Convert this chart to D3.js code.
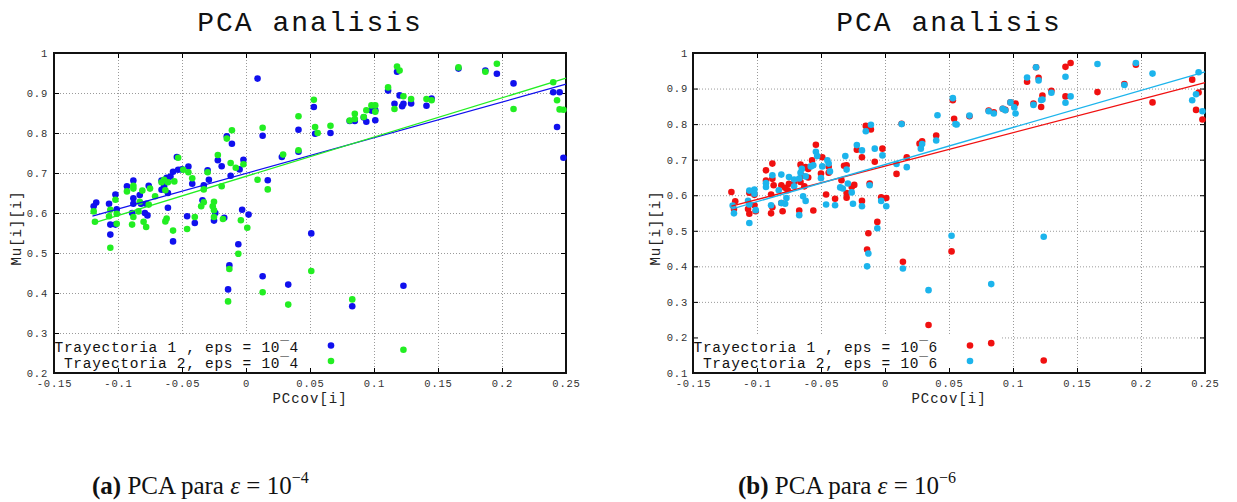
<!DOCTYPE html>
<html>
<head>
<meta charset="utf-8">
<script src="https://cdn.jsdelivr.net/npm/d3@7"></script>
<style>
  body { margin: 0; background: #fff; }
  .mono { font-family: "Liberation Mono", "Courier New", monospace; }
  .serif { font-family: "Liberation Serif", "DejaVu Serif", serif; }
</style>
</head>
<body>
<svg id="fig" width="1237" height="502"></svg>
<script>
// ---- data: [PCcov[i], Mu[i][i]] ----
var trayA1 = [ // eps = 10^-4, trayectoria 1 (blue)
  [0.009,0.936],[0.053,0.865],[0.054,0.798],[0.013,0.793],[-0.015,0.792],[-0.011,0.773],[0.041,0.808],[0.066,0.800],
  [0.041,0.753],[0.028,0.740],[0.017,0.682],[-0.002,0.733],[-0.005,0.709],[-0.012,0.693],[-0.019,0.717],[-0.022,0.732],
  [-0.030,0.707],[-0.029,0.683],[-0.033,0.669],[-0.042,0.673],[-0.045,0.716],[-0.050,0.709],[-0.053,0.708],[-0.054,0.740],
  [-0.057,0.703],[-0.062,0.688],[-0.061,0.650],[-0.064,0.667],[-0.066,0.681],[-0.066,0.658],[-0.061,0.613],[-0.059,0.691],
  [-0.076,0.668],[-0.088,0.681],[-0.088,0.637],[-0.088,0.623],[-0.083,0.645],[-0.082,0.623],[-0.078,0.623],[-0.079,0.600],
  [-0.077,0.594],[-0.093,0.667],[-0.089,0.600],[-0.102,0.646],[-0.101,0.609],[-0.107,0.623],[-0.117,0.626],[-0.119,0.617],
  [-0.034,0.632],[-0.024,0.600],[-0.017,0.588],[-0.003,0.608],[0.002,0.596],
  [0.081,0.830],[0.085,0.830],[0.092,0.839],[0.094,0.828],[0.098,0.856],[0.101,0.832],[0.101,0.857],[0.111,0.906],
  [0.116,0.873],[0.118,0.953],[0.120,0.894],[0.122,0.867],[0.123,0.873],[0.129,0.874],[0.141,0.868],[0.145,0.886],
  [0.166,0.961],[0.187,0.956],[0.196,0.948],[0.209,0.924],[0.240,0.902],[0.245,0.902],[0.243,0.815],[0.248,0.738],
  [-0.106,0.571],[-0.106,0.546],[-0.102,0.571],[-0.057,0.529],[-0.046,0.592],[-0.040,0.575],[-0.025,0.581],[-0.006,0.522],
  [-0.013,0.469],[-0.014,0.409],[0.013,0.442],[0.033,0.421],[0.051,0.549],[0.083,0.367],[0.123,0.418]
];
var trayA2 = [ // eps = 10^-4, trayectoria 2 (green)
  [0.053,0.883],[0.041,0.842],[0.013,0.813],[-0.011,0.807],[-0.015,0.786],[0.066,0.818],[0.054,0.815],[0.041,0.757],
  [0.029,0.746],[0.009,0.683],[0.017,0.659],[-0.002,0.722],[-0.008,0.713],[-0.012,0.725],[-0.022,0.745],[-0.019,0.667],
  [-0.030,0.702],[-0.033,0.659],[-0.033,0.627],[-0.042,0.687],[-0.045,0.702],[-0.049,0.708],[-0.053,0.738],[-0.056,0.679],
  [-0.061,0.677],[-0.064,0.683],[-0.066,0.677],[-0.063,0.657],[-0.071,0.642],[-0.075,0.661],[-0.076,0.621],[-0.088,0.668],
  [-0.088,0.661],[-0.081,0.656],[-0.093,0.654],[-0.083,0.628],[-0.084,0.604],[-0.106,0.608],[-0.102,0.633],[-0.101,0.598],
  [-0.119,0.604],[-0.025,0.628],[-0.025,0.607],
  [0.056,0.800],[0.081,0.831],[0.085,0.848],[0.085,0.835],[0.092,0.840],[0.094,0.857],[0.098,0.869],[0.101,0.869],
  [0.101,0.853],[0.111,0.914],[0.116,0.860],[0.118,0.966],[0.120,0.956],[0.123,0.892],[0.129,0.885],[0.141,0.885],
  [0.145,0.882],[0.166,0.964],[0.187,0.953],[0.196,0.973],[0.209,0.860],[0.240,0.927],[0.243,0.882],[0.245,0.859],[0.248,0.858],
  [-0.118,0.578],[-0.107,0.592],[-0.106,0.513],[-0.101,0.573],[-0.089,0.571],[-0.088,0.590],[-0.080,0.578],[-0.078,0.565],
  [-0.063,0.579],[-0.062,0.586],[-0.057,0.556],[-0.046,0.560],[-0.040,0.590],[-0.035,0.617],[-0.026,0.617],[-0.025,0.590],
  [-0.018,0.585],[-0.004,0.582],[0.001,0.563],[-0.006,0.498],[-0.013,0.460],[-0.014,0.379],[0.013,0.402],[0.033,0.371],
  [0.051,0.455],[0.083,0.384],[0.123,0.258]
];
var trayB1 = [ // eps = 10^-6, trayectoria 1 (red)
  [-0.120,0.609],[-0.117,0.583],[-0.118,0.561],[-0.107,0.561],[-0.106,0.548],[-0.106,0.607],[-0.102,0.572],[-0.101,0.555],
  [-0.102,0.601],[-0.093,0.670],[-0.093,0.641],[-0.088,0.689],[-0.088,0.646],[-0.087,0.628],[-0.089,0.602],[-0.089,0.549],
  [-0.088,0.566],[-0.080,0.555],[-0.081,0.578],[-0.081,0.628],[-0.078,0.621],[-0.075,0.632],[-0.076,0.614],[-0.071,0.636],
  [-0.067,0.557],[-0.066,0.637],[-0.066,0.686],[-0.065,0.655],[-0.062,0.679],[-0.060,0.674],[-0.060,0.650],[-0.063,0.625],
  [-0.057,0.698],[-0.056,0.557],[-0.054,0.742],[-0.050,0.661],[-0.049,0.707],[-0.046,0.602],[-0.044,0.680],[-0.044,0.663],
  [-0.039,0.590],[-0.034,0.642],[-0.032,0.683],[-0.030,0.684],[-0.030,0.606],[-0.030,0.593],[-0.026,0.623],[-0.024,0.629],
  [-0.022,0.728],[-0.018,0.707],[-0.018,0.584],[-0.015,0.795],[-0.011,0.785],[-0.012,0.633],[-0.008,0.694],[-0.002,0.731],
  [-0.003,0.594],[0.001,0.592],[0.009,0.660],[0.017,0.707],[0.013,0.801],[0.027,0.745],[0.029,0.752],[0.040,0.768],
  [0.053,0.867],[0.054,0.815],
  [0.066,0.822],[0.081,0.838],[0.085,0.833],[0.092,0.843],[0.094,0.840],[0.098,0.861],[0.102,0.858],[0.111,0.919],
  [0.116,0.858],[0.118,0.960],[0.120,0.930],[0.122,0.848],[0.123,0.880],[0.130,0.894],[0.141,0.878],[0.141,0.961],
  [0.145,0.972],[0.166,0.890],[0.187,0.913],[0.196,0.967],[0.209,0.861],[0.240,0.925],[0.243,0.840],[0.245,0.889],[0.248,0.813],
  [-0.006,0.525],[-0.013,0.493],[-0.014,0.447],[0.014,0.413],[0.034,0.235],[0.052,0.442],[0.083,0.184],[0.124,0.135]
];
var trayB2 = [ // eps = 10^-6, trayectoria 2 (light blue)
  [-0.119,0.571],[-0.118,0.549],[-0.107,0.584],[-0.106,0.613],[-0.106,0.574],[-0.102,0.616],[-0.102,0.604],[-0.101,0.558],
  [-0.093,0.634],[-0.093,0.623],[-0.089,0.572],[-0.088,0.656],[-0.083,0.614],[-0.081,0.658],[-0.081,0.578],[-0.078,0.576],
  [-0.077,0.592],[-0.075,0.651],[-0.071,0.625],[-0.071,0.644],[-0.067,0.544],[-0.067,0.647],[-0.066,0.663],[-0.065,0.674],
  [-0.064,0.597],[-0.062,0.653],[-0.062,0.584],[-0.058,0.681],[-0.056,0.684],[-0.054,0.722],[-0.053,0.710],[-0.050,0.648],
  [-0.049,0.681],[-0.046,0.574],[-0.045,0.698],[-0.044,0.689],[-0.043,0.667],[-0.039,0.572],[-0.035,0.622],[-0.033,0.619],
  [-0.031,0.710],[-0.030,0.672],[-0.029,0.633],[-0.026,0.608],[-0.025,0.576],[-0.022,0.741],[-0.018,0.726],[-0.018,0.569],
  [-0.015,0.780],[-0.011,0.798],[-0.012,0.628],[-0.008,0.731],[-0.002,0.712],[-0.003,0.584],[0.001,0.569],[0.009,0.688],
  [0.017,0.679],[0.013,0.800],[0.028,0.731],[0.029,0.744],[0.040,0.754],[0.041,0.825],[0.053,0.873],[0.055,0.800],
  [0.056,0.799],[0.066,0.824],[0.081,0.836],[0.085,0.830],[0.092,0.843],[0.094,0.839],[0.098,0.861],[0.101,0.847],
  [0.102,0.830],[0.111,0.931],[0.116,0.854],[0.118,0.960],[0.120,0.923],[0.122,0.868],[0.123,0.869],[0.130,0.888],
  [0.141,0.860],[0.141,0.933],[0.145,0.878],[0.166,0.969],[0.187,0.910],[0.196,0.972],[0.209,0.942],[0.240,0.867],
  [0.243,0.884],[0.245,0.946],[0.248,0.836],
  [-0.106,0.522],[-0.014,0.400],[-0.013,0.436],[-0.006,0.507],[0.014,0.394],[0.034,0.333],[0.052,0.486],[0.124,0.483],[0.083,0.350]
];

// linear fits: value at the first and last PCcov
var fitX = [-0.12, 0.25];
var fitA1 = [0.592, 0.922];
var fitA2 = [0.574, 0.937];
var fitB1 = [0.569, 0.917];
var fitB2 = [0.561, 0.947];

var xTicks = [-0.15, -0.1, -0.05, 0, 0.05, 0.1, 0.15, 0.2, 0.25];
var xTickLabels = ["-0.15", "-0.1", "-0.05", "0", "0.05", "0.1", "0.15", "0.2", "0.25"];
var yTicksA = [0.2, 0.3, 0.4, 0.5, 0.6, 0.7, 0.8, 0.9, 1];
var yTickLabelsA = ["0.2", "0.3", "0.4", "0.5", "0.6", "0.7", "0.8", "0.9", "1"];
var yTicksB = [0.1, 0.2, 0.3, 0.4, 0.5, 0.6, 0.7, 0.8, 0.9, 1];
var yTickLabelsB = ["0.1", "0.2", "0.3", "0.4", "0.5", "0.6", "0.7", "0.8", "0.9", "1"];

var legendA = ["Trayectoria 1 , eps = 10\u00af4", "Trayectoria 2, eps = 10\u00af4"];
var legendB = ["Trayectoria 1 , eps = 10\u00af6", "Trayectoria 2, eps = 10\u00af6"];

var svg = d3.select("#fig");

var drawPanel = function(cfg) {
    var W = 512, TOP = 53, BOTTOM = 373;
    var left = cfg.left;
    var x = d3.scaleLinear().domain([-0.15, 0.25]).range([left, left + W]);
    var y = d3.scaleLinear().domain([cfg.yTicks[0], 1]).range([BOTTOM, TOP]);
    var g = svg.append("g");

    // dotted grid
    g.append("g")
        .attr("transform", "translate(0," + BOTTOM + ")")
        .call(d3.axisBottom(x).tickValues(xTicks.slice(1, -1)).tickSize(-(BOTTOM - TOP)).tickFormat(""))
        .call(function(s){ s.select(".domain").remove(); });
    g.append("g")
        .attr("transform", "translate(" + left + ",0)")
        .call(d3.axisLeft(y).tickValues(cfg.yTicks.slice(1, -1)).tickSize(-W).tickFormat(""))
        .call(function(s){ s.select(".domain").remove(); });
    g.selectAll(".tick line")
        .attr("stroke", "#9a9a9a")
        .attr("stroke-width", 1)
        .attr("stroke-dasharray", "1,2");

    // key box hides the grid behind it
    g.append("rect")
        .attr("x", left + 1).attr("y", 336)
        .attr("width", 308).attr("height", BOTTOM - 337)
        .attr("fill", "#fff");

    // inward ticks on all four sides + labels
    var styleAxis = function(s) {
        s.select(".domain").remove();
        s.selectAll(".tick line").attr("stroke", "#000").attr("stroke-width", 1);
        s.selectAll("text")
            .attr("class", "mono")
            .attr("font-size", 10.5)
            .attr("letter-spacing", 0.8)
            .attr("fill", "#333");
    };
    g.append("g")
        .attr("transform", "translate(0," + BOTTOM + ")")
        .call(d3.axisBottom(x).tickValues(xTicks).tickSizeInner(-5).tickSizeOuter(0).tickPadding(7)
            .tickFormat(function(d, i){ return xTickLabels[i]; }))
        .call(styleAxis);
    g.append("g")
        .attr("transform", "translate(0," + TOP + ")")
        .call(d3.axisTop(x).tickValues(xTicks).tickSizeInner(-5).tickSizeOuter(0).tickFormat(""))
        .call(styleAxis);
    g.append("g")
        .attr("transform", "translate(" + left + ",0)")
        .call(d3.axisLeft(y).tickValues(cfg.yTicks).tickSizeInner(-5).tickSizeOuter(0).tickPadding(cfg.yPad)
            .tickFormat(function(d, i){ return cfg.yTickLabels[i]; }))
        .call(styleAxis);
    g.append("g")
        .attr("transform", "translate(" + (left + W) + ",0)")
        .call(d3.axisRight(y).tickValues(cfg.yTicks).tickSizeInner(-5).tickSizeOuter(0).tickFormat(""))
        .call(styleAxis);

    // frame
    g.append("rect")
        .attr("x", left).attr("y", TOP)
        .attr("width", W).attr("height", BOTTOM - TOP)
        .attr("fill", "none")
        .attr("stroke", "#111")
        .attr("stroke-width", 2);

    // points, series 2 above series 1
    cfg.series.forEach(function(sr) {
        g.append("g").selectAll("circle")
            .data(sr.data)
            .enter().append("circle")
            .attr("cx", function(d){ return x(d[0]); })
            .attr("cy", function(d){ return y(d[1]); })
            .attr("r", 3.3)
            .attr("fill", sr.color);
    });

    // fitted lines
    cfg.series.forEach(function(sr) {
        var line = d3.line()
            .x(function(d, i){ return x(fitX[i]); })
            .y(function(d){ return y(d); });
        g.append("path")
            .attr("d", line(sr.fit))
            .attr("fill", "none")
            .attr("stroke", sr.color)
            .attr("stroke-width", 1.3);
    });

    // key
    cfg.series.forEach(function(sr, i) {
        g.append("text")
            .attr("class", "mono")
            .attr("x", left + 245)
            .attr("y", 352 + i * 15.5)
            .attr("text-anchor", "end")
            .attr("font-size", 14.5)
            .attr("letter-spacing", 0.7)
            .attr("fill", "#111")
            .text(cfg.legend[i]);
        g.append("circle")
            .attr("cx", left + 277)
            .attr("cy", 345.5 + i * 15.5)
            .attr("r", 3.3)
            .attr("fill", sr.color);
    });

    // title and axis labels
    g.append("text")
        .attr("class", "mono")
        .attr("x", left + W / 2).attr("y", 31)
        .attr("text-anchor", "middle")
        .attr("font-size", 28)
        .attr("letter-spacing", 2)
        .attr("fill", "#111")
        .text("PCA analisis");
    g.append("text")
        .attr("class", "mono")
        .attr("x", left + W / 2).attr("y", 403)
        .attr("text-anchor", "middle")
        .attr("font-size", 14)
        .attr("letter-spacing", 1)
        .attr("fill", "#222")
        .text("PCcov[i]");
    g.append("text")
        .attr("class", "mono")
        .attr("transform", "translate(" + (left - 33) + "," + cfg.yLabelY + ") rotate(-90)")
        .attr("text-anchor", "middle")
        .attr("font-size", 14)
        .attr("letter-spacing", 1)
        .attr("fill", "#222")
        .text("Mu[i][i]");

    // caption below the plot
    var cap = svg.append("text")
        .attr("class", "serif")
        .attr("x", cfg.capX).attr("y", 494)
        .attr("font-size", 25)
        .attr("fill", "#111");
    cap.append("tspan").attr("font-weight", "bold").text(cfg.capTag);
    cap.append("tspan").text(" PCA para ");
    cap.append("tspan").attr("font-style", "italic").text("\u03b5");
    cap.append("tspan").text(" = 10");
    cap.append("tspan").attr("font-size", 16).attr("dy", -11).text(cfg.capExp);
};

drawPanel({
    left: 54,
    yTicks: yTicksA, yTickLabels: yTickLabelsA, yPad: 6, yLabelY: 228,
    legend: legendA,
    series: [
        { data: trayA1, fit: fitA1, color: "#1010ee" },
        { data: trayA2, fit: fitA2, color: "#22ee22" }
    ],
    capX: 92, capTag: "(a)", capExp: "\u22124"
});

drawPanel({
    left: 693,
    yTicks: yTicksB, yTickLabels: yTickLabelsB, yPad: 5, yLabelY: 228,
    legend: legendB,
    series: [
        { data: trayB1, fit: fitB1, color: "#f01010" },
        { data: trayB2, fit: fitB2, color: "#1cb4ec" }
    ],
    capX: 738, capTag: "(b)", capExp: "\u22126"
});
</script>
</body>
</html>
